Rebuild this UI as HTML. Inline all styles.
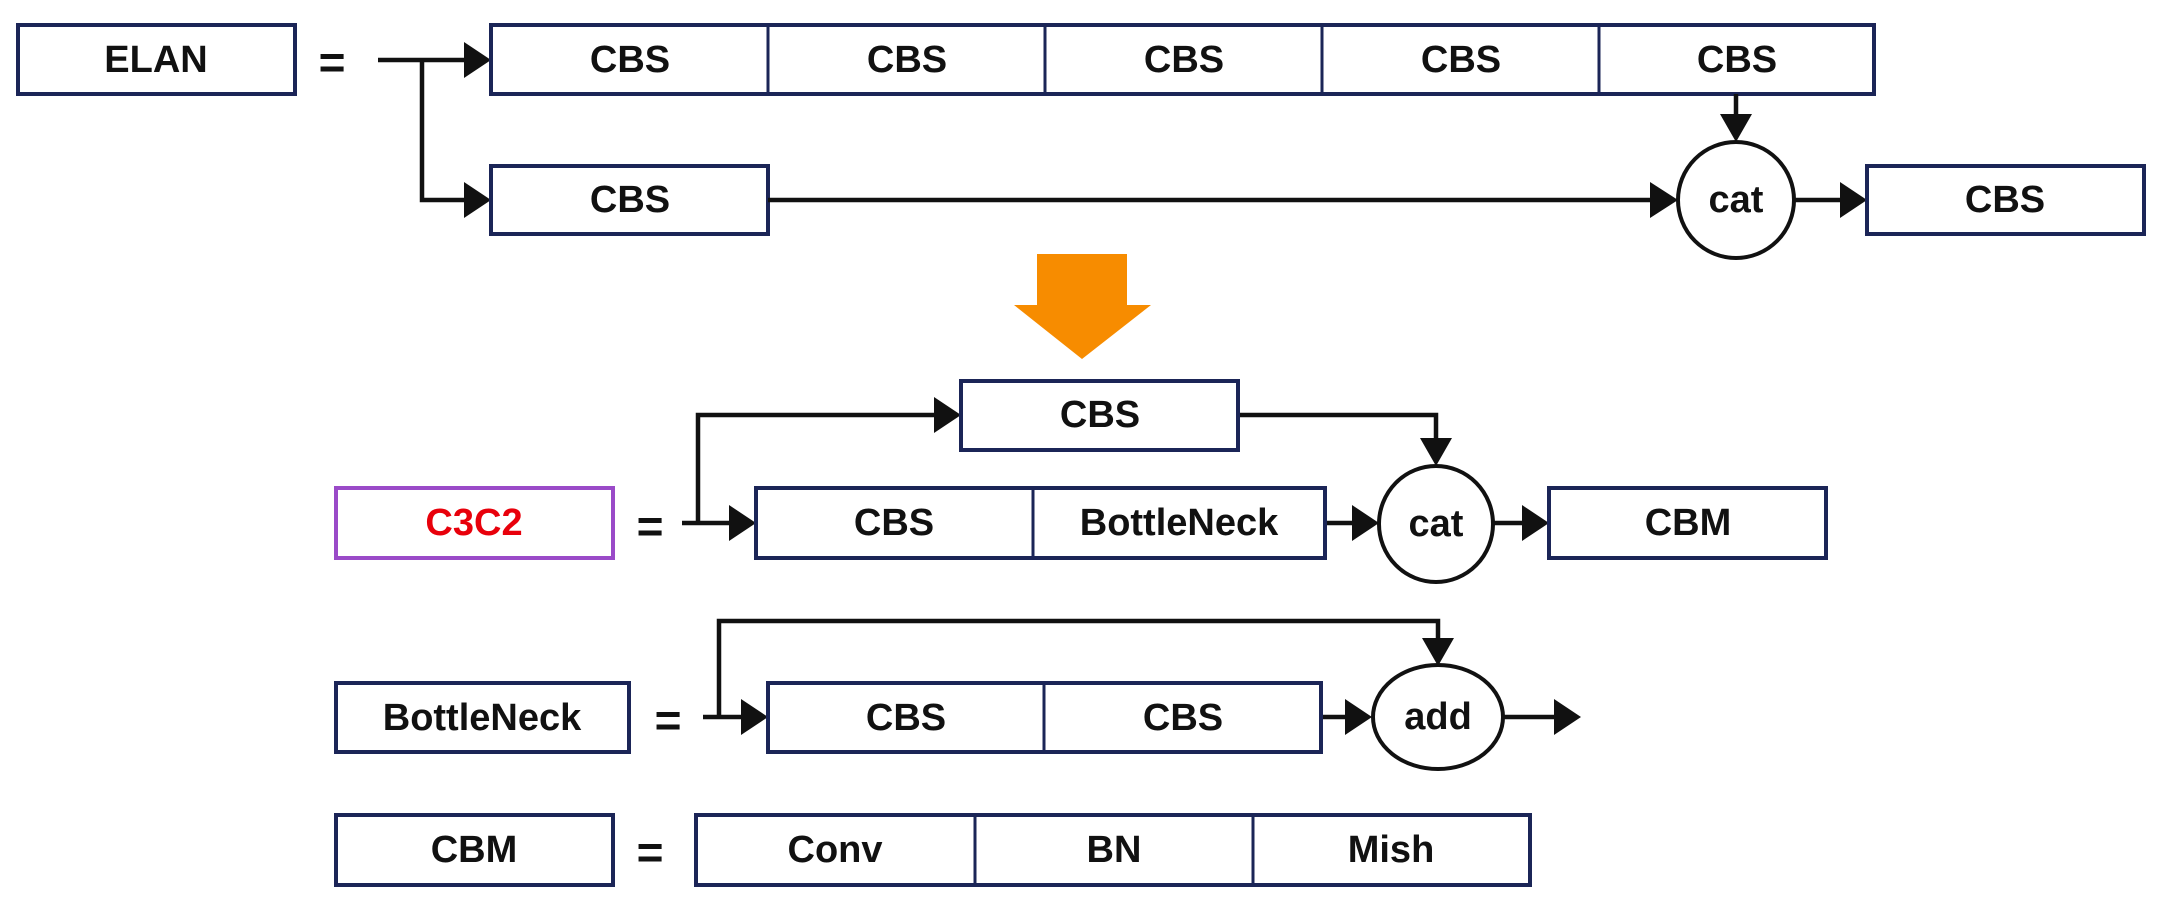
<!DOCTYPE html>
<html><head><meta charset="utf-8"><style>html,body{margin:0;padding:0;background:#fff}svg{display:block}</style></head>
<body>
<svg width="2157" height="903" viewBox="0 0 2157 903" xmlns="http://www.w3.org/2000/svg" font-family="Liberation Sans, sans-serif" font-weight="bold" font-size="38">
<style>
.b{fill:#fff;stroke:#1b2557;stroke-width:4}
.l{stroke:#111;stroke-width:4.5;fill:none}
.d{stroke:#1b2557;stroke-width:3;fill:none}
.t{text-anchor:middle;dominant-baseline:central;fill:#111}
.h{fill:#111}
</style>
<!-- ELAN -->
<rect class="b" x="18" y="25" width="277" height="69"/><text class="t" x="156" y="60">ELAN</text>
<text class="t" x="332" y="62" font-size="46">=</text>
<path class="l" d="M378,60 H470 M422,60 V200 H470"/>
<path class="h" d="M464,42 L491,60 L464,78 z M464,182 L491,200 L464,218 z"/>
<rect class="b" x="491" y="25" width="1383" height="69"/>
<path class="d" d="M768,25V94 M1045,25V94 M1322,25V94 M1599,25V94"/>
<text class="t" x="630" y="60">CBS</text><text class="t" x="907" y="60">CBS</text><text class="t" x="1184" y="60">CBS</text><text class="t" x="1461" y="60">CBS</text><text class="t" x="1737" y="60">CBS</text>
<rect class="b" x="491" y="166" width="277" height="68"/><text class="t" x="630" y="200">CBS</text>
<path class="l" d="M768,200 H1655 M1736,94 V120 M1794,200 H1846"/>
<path class="h" d="M1650,182 L1678,200 L1650,218 z M1720,114 L1736,142 L1752,114 z M1840,182 L1867,200 L1840,218 z"/>
<ellipse cx="1736" cy="200" rx="58" ry="58" fill="#fff" stroke="#111" stroke-width="4"/><text class="t" x="1736" y="200">cat</text>
<rect class="b" x="1867" y="166" width="277" height="68"/><text class="t" x="2005" y="200">CBS</text>
<!-- orange arrow -->
<path d="M1037,254 H1127 V305 H1151 L1082,359 L1014,305 H1037 z" fill="#f78c00"/>
<!-- C3C2 -->
<rect x="336" y="488" width="277" height="70" fill="#fff" stroke="#9a4ac8" stroke-width="4"/><text class="t" x="474" y="523" style="fill:#e8000b">C3C2</text>
<text class="t" x="650" y="526" font-size="46">=</text>
<path class="l" d="M682,523 H735 M698,523 V415 H940 M1238,415 H1436 V445 M1325,523 H1358 M1494,523 H1528"/>
<path class="h" d="M729,505 L756,523 L729,541 z M934,397 L961,415 L934,433 z M1420,438 L1436,466 L1452,438 z M1352,505 L1379,523 L1352,541 z M1522,505 L1549,523 L1522,541 z"/>
<rect class="b" x="961" y="381" width="277" height="69"/><text class="t" x="1100" y="415">CBS</text>
<rect class="b" x="756" y="488" width="569" height="70"/><path class="d" d="M1033,488V558"/>
<text class="t" x="894" y="523">CBS</text><text class="t" x="1179" y="523">BottleNeck</text>
<ellipse cx="1436" cy="524" rx="57" ry="58" fill="#fff" stroke="#111" stroke-width="4"/><text class="t" x="1436" y="524">cat</text>
<rect class="b" x="1549" y="488" width="277" height="70"/><text class="t" x="1688" y="523">CBM</text>
<!-- BottleNeck -->
<rect class="b" x="336" y="683" width="293" height="69"/><text class="t" x="482" y="718">BottleNeck</text>
<text class="t" x="668" y="720" font-size="46">=</text>
<path class="l" d="M703,717 H748 M719,717 V621 H1438 V645 M1321,717 H1352 M1503,717 H1560"/>
<path class="h" d="M741,699 L768,717 L741,735 z M1422,638 L1438,666 L1454,638 z M1345,699 L1372,717 L1345,735 z M1554,699 L1581,717 L1554,735 z"/>
<rect class="b" x="768" y="683" width="553" height="69"/><path class="d" d="M1044,683V752"/>
<text class="t" x="906" y="718">CBS</text><text class="t" x="1183" y="718">CBS</text>
<ellipse cx="1438" cy="717" rx="65" ry="52" fill="#fff" stroke="#111" stroke-width="4"/><text class="t" x="1438" y="717">add</text>
<!-- CBM -->
<rect class="b" x="336" y="815" width="277" height="70"/><text class="t" x="474" y="850">CBM</text>
<text class="t" x="650" y="852" font-size="46">=</text>
<rect class="b" x="696" y="815" width="834" height="70"/><path class="d" d="M975,815V885 M1253,815V885"/>
<text class="t" x="835" y="850">Conv</text><text class="t" x="1114" y="850">BN</text><text class="t" x="1391" y="850">Mish</text>
</svg>
</body></html>
